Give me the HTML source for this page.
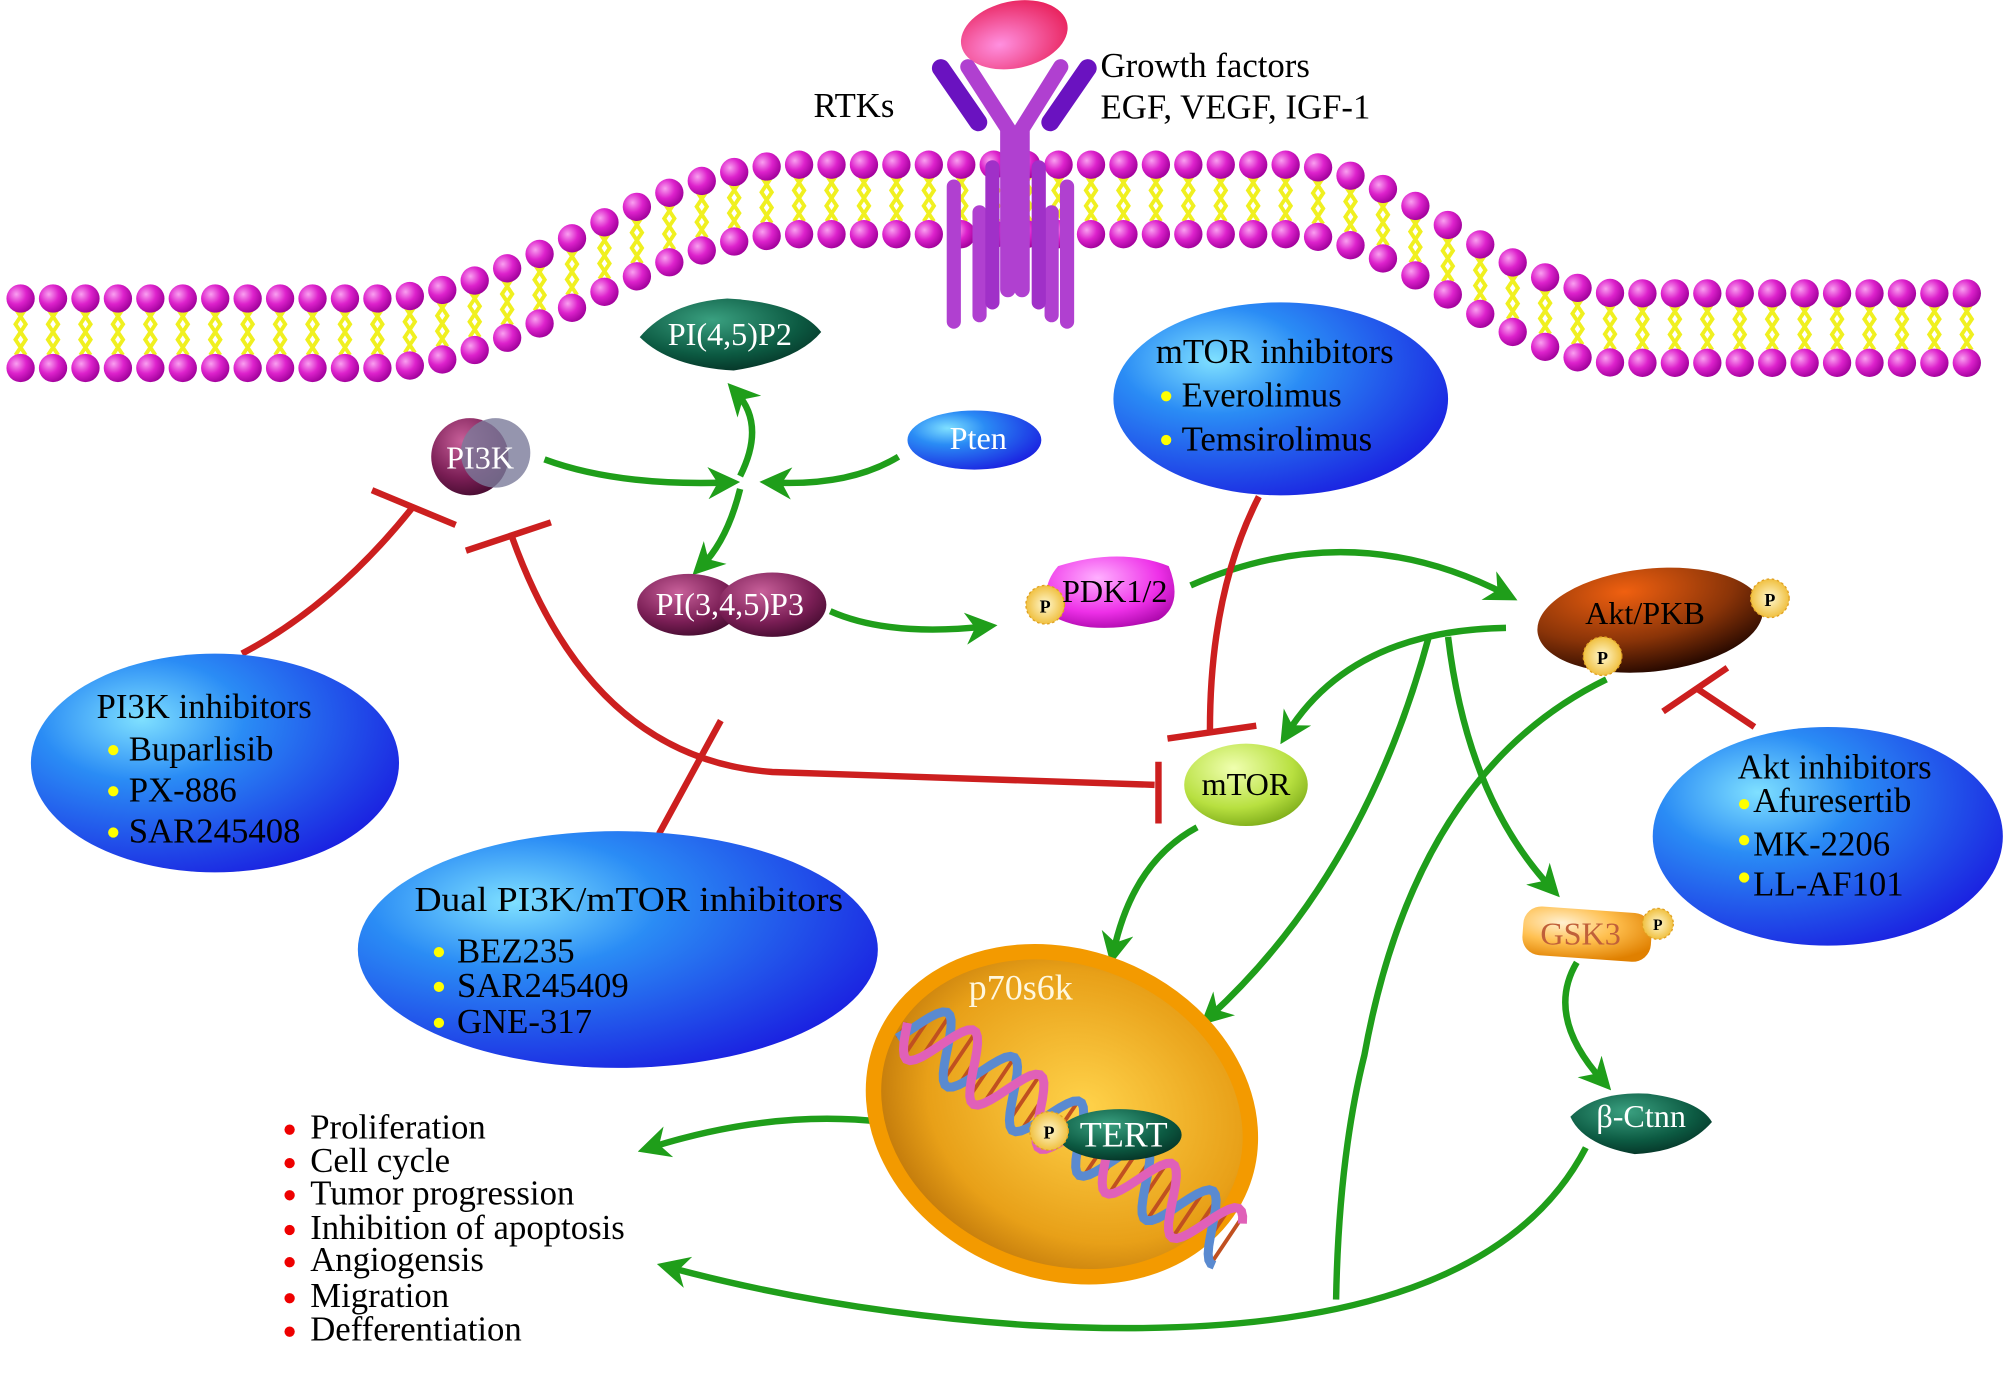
<!DOCTYPE html>
<html><head><meta charset="utf-8"><style>
html,body{margin:0;padding:0;background:#fff;}
svg{display:block;font-family:"Liberation Serif",serif;}
</style></head><body>
<svg id="s" width="2008" height="1378" viewBox="0 0 1560 1071" preserveAspectRatio="none" xmlns="http://www.w3.org/2000/svg">
<defs>
<radialGradient id="head" cx="35%" cy="35%" r="70%"><stop offset="0" stop-color="#f9a0f0"/><stop offset=".5" stop-color="#dd22cc"/><stop offset="1" stop-color="#a0009a"/></radialGradient>
<radialGradient id="blue" cx="30%" cy="30%" r="80%"><stop offset="0" stop-color="#7fe0ff"/><stop offset=".35" stop-color="#2a8cf5"/><stop offset="1" stop-color="#1a1ee0"/></radialGradient>
<radialGradient id="dgreen" cx="40%" cy="30%" r="80%"><stop offset="0" stop-color="#3aa080"/><stop offset=".6" stop-color="#0c5a42"/><stop offset="1" stop-color="#042a20"/></radialGradient>
<radialGradient id="purp" cx="40%" cy="30%" r="80%"><stop offset="0" stop-color="#c8609a"/><stop offset=".6" stop-color="#7a1e55"/><stop offset="1" stop-color="#3a0828"/></radialGradient>
<radialGradient id="brown" cx="40%" cy="20%" r="80%"><stop offset="0" stop-color="#f06010"/><stop offset=".6" stop-color="#8a3408"/><stop offset="1" stop-color="#2a0a00"/></radialGradient>
<radialGradient id="mag" cx="40%" cy="30%" r="80%"><stop offset="0" stop-color="#ffb0ff"/><stop offset=".6" stop-color="#ee30e8"/><stop offset="1" stop-color="#a000a0"/></radialGradient>
<radialGradient id="lime" cx="40%" cy="30%" r="80%"><stop offset="0" stop-color="#f0ffb0"/><stop offset=".6" stop-color="#b8e040"/><stop offset="1" stop-color="#70a010"/></radialGradient>
<radialGradient id="orange" cx="55%" cy="45%" r="60%"><stop offset="0" stop-color="#ffd24a"/><stop offset=".7" stop-color="#e8a018"/><stop offset="1" stop-color="#b87008"/></radialGradient>
<radialGradient id="gsk" cx="30%" cy="30%" r="80%"><stop offset="0" stop-color="#fff0d0"/><stop offset=".5" stop-color="#ffc050"/><stop offset="1" stop-color="#e08000"/></radialGradient>
<radialGradient id="pink" cx="35%" cy="60%" r="70%"><stop offset="0" stop-color="#ff90e0"/><stop offset="1" stop-color="#e8205a"/></radialGradient>
<radialGradient id="pb" cx="50%" cy="50%" r="50%"><stop offset="0" stop-color="#fff8d0"/><stop offset="1" stop-color="#f0c040"/></radialGradient>
<marker id="ga" viewBox="0 0 10 10" refX="6" refY="5" markerWidth="5" markerHeight="5" orient="auto-start-reverse" markerUnits="strokeWidth"><path d="M0,0 L10,5 L0,10 L3,5z" fill="#1f9e1a"/></marker>
</defs>
<g id="mem"></g>

<!-- receptor -->
<g stroke-linecap="round" fill="none">
<ellipse cx="788" cy="27" rx="42" ry="26" fill="url(#pink)" transform="rotate(-12 788 27)"/>
<path d="M731,53 L760,95" stroke="#6a12c0" stroke-width="14"/>
<path d="M845,53 L816,95" stroke="#6a12c0" stroke-width="14"/>
<path d="M752,52 L783,100 L783,225" stroke="#b040d0" stroke-width="12"/>
<path d="M824,52 L794,100 L794,225" stroke="#b040d0" stroke-width="12"/>
<path d="M761,165 V245 M817,165 V245 M741,145 V250 M829,145 V250" stroke="#b040d0" stroke-width="11"/>
<path d="M771,130 V235 M807,130 V235" stroke="#a030c8" stroke-width="11"/>
</g>
<g font-size="27">
<text x="632" y="91">RTKs</text>
<text x="855" y="60">Growth factors</text>
<text x="855" y="92">EGF, VEGF, IGF-1</text>
</g>

<!-- connectors green -->
<g stroke="#1f9e1a" stroke-width="5" fill="none" marker-end="url(#ga)">
<path d="M423,357 Q480,378 565,375"/>
<path d="M698,355 Q660,378 600,375"/>
<path d="M575,370 Q595,330 572,305" />
<path d="M575,380 Q565,420 545,440"/>
<path d="M645,475 Q690,495 765,487"/>
<path d="M925,455 Q1050,400 1170,462"/>
<path d="M1170,488 Q1050,490 1000,570"/>
<path d="M930,643 Q880,670 865,740"/>
<path d="M1110,495 Q1060,680 940,790"/>
<path d="M1125,495 Q1140,620 1205,690"/>
<path d="M1225,748 Q1200,790 1245,840"/>
<path d="M686,872 Q600,862 505,892"/>
<path d="M1232,892 Q1150,1050 800,1030 Q650,1020 520,985"/>
<path d="M1248,528 Q1100,600 1060,820 Q1040,900 1038,1010" marker-end="none"/>
</g>

<!-- red inhibition -->
<g stroke="#cc1f1f" stroke-width="5" fill="none">
<path d="M188,508 Q260,470 320,395"/><path d="M289,381 L354,408"/>
<path d="M897,610 L600,600 Q460,590 398,418"/><path d="M362,428 L428,406"/><path d="M900,592 V640"/>
<path d="M512,648 L560,560"/>
<path d="M978,386 Q940,460 940,567"/><path d="M907,574 L976,564"/>
<path d="M1363,565 L1318,535"/><path d="M1292,553 L1342,519"/>
</g>

<!-- nodes -->
<path d="M497,262 Q520,235 565,232 Q620,235 638,258 Q620,280 570,288 Q520,285 497,262z" fill="url(#dgreen)"/>
<text x="567" y="268" font-size="25" fill="#fff" text-anchor="middle">PI(4,5)P2</text>
<ellipse cx="757" cy="342" rx="52" ry="23" fill="url(#blue)"/>
<text x="760" y="349" font-size="25" fill="#fff" text-anchor="middle">Pten</text>
<circle cx="365" cy="355" r="30" fill="url(#purp)"/><circle cx="385" cy="352" r="27" fill="#7a7a9a" opacity=".8"/>
<text x="373" y="364" font-size="25" fill="#fff" text-anchor="middle">PI3K</text>
<ellipse cx="535" cy="470" rx="40" ry="24" fill="url(#purp)"/><ellipse cx="600" cy="470" rx="42" ry="25" fill="url(#purp)"/>
<text x="567" y="478" font-size="25" fill="#fff" text-anchor="middle">PI(3,4,5)P3</text>
<path d="M822,440 Q870,425 908,440 Q920,470 900,482 Q850,495 820,480 Q805,460 822,440z" fill="url(#mag)"/>
<circle cx="812" cy="470" r="15" fill="url(#pb)" stroke="#e0a020" stroke-dasharray="2 2"/><text x="812" y="476" font-size="14" text-anchor="middle" font-weight="bold">P</text>
<text x="866" y="468" font-size="25" text-anchor="middle">PDK1/2</text>
<ellipse cx="1282" cy="482" rx="88" ry="40" fill="url(#brown)" transform="rotate(-6 1282 482)"/>
<text x="1278" y="485" font-size="25" text-anchor="middle">Akt/PKB</text>
<circle cx="1375" cy="465" r="15" fill="url(#pb)" stroke="#e0a020" stroke-dasharray="2 2"/><text x="1375" y="471" font-size="14" text-anchor="middle" font-weight="bold">P</text>
<circle cx="1245" cy="510" r="15" fill="url(#pb)" stroke="#e0a020" stroke-dasharray="2 2"/><text x="1245" y="516" font-size="14" text-anchor="middle" font-weight="bold">P</text>

<g font-size="27">
<ellipse cx="995" cy="310" rx="130" ry="75" fill="url(#blue)"/>
<text x="898" y="282">mTOR inhibitors</text>
<circle cx="906" cy="308" r="4" fill="#ff0"/><text x="918" y="316">Everolimus</text>
<circle cx="906" cy="342" r="4" fill="#ff0"/><text x="918" y="350">Temsirolimus</text>

<ellipse cx="167" cy="593" rx="143" ry="85" fill="url(#blue)"/>
<text x="75" y="558">PI3K inhibitors</text>
<circle cx="88" cy="583" r="4" fill="#ff0"/><text x="100" y="591">Buparlisib</text>
<circle cx="88" cy="615" r="4" fill="#ff0"/><text x="100" y="623">PX-886</text>
<circle cx="88" cy="647" r="4" fill="#ff0"/><text x="100" y="655">SAR245408</text>

<ellipse cx="480" cy="738" rx="202" ry="92" fill="url(#blue)"/>
<text x="322" y="708" textLength="333" lengthAdjust="spacingAndGlyphs">Dual PI3K/mTOR inhibitors</text>
<circle cx="341" cy="740" r="4" fill="#ff0"/><text x="355" y="748">BEZ235</text>
<circle cx="341" cy="767" r="4" fill="#ff0"/><text x="355" y="775">SAR245409</text>
<circle cx="341" cy="795" r="4" fill="#ff0"/><text x="355" y="803">GNE-317</text>

<ellipse cx="1420" cy="650" rx="136" ry="85" fill="url(#blue)"/>
<text x="1350" y="605">Akt inhibitors</text>
<circle cx="1355" cy="625" r="4" fill="#ff0"/><text x="1362" y="631">Afuresertib</text>
<circle cx="1355" cy="653" r="4" fill="#ff0"/><text x="1362" y="665">MK-2206</text>
<circle cx="1355" cy="682" r="4" fill="#ff0"/><text x="1362" y="696">LL-AF101</text>
</g>

<ellipse cx="968" cy="610" rx="48" ry="32" fill="url(#lime)"/>
<text x="968" y="618" font-size="25" text-anchor="middle">mTOR</text>

<rect x="1183" y="707" width="100" height="38" rx="14" fill="url(#gsk)" transform="rotate(4 1233 726)"/>
<text x="1228" y="734" font-size="25" fill="#c0603a" text-anchor="middle">GSK3</text>
<circle cx="1288" cy="718" r="12" fill="url(#pb)" stroke="#e0a020" stroke-dasharray="2 2"/><text x="1288" y="723" font-size="12" text-anchor="middle" font-weight="bold">P</text>
<path d="M1220,868 Q1240,848 1280,850 Q1320,855 1330,872 Q1310,895 1270,897 Q1230,890 1220,868z" fill="url(#dgreen)"/>
<text x="1275" y="876" font-size="25" fill="#fff" text-anchor="middle">β-Ctnn</text>

<!-- p70s6k -->
<ellipse cx="825" cy="866" rx="150" ry="122" fill="url(#orange)" stroke="#f39a00" stroke-width="12" transform="rotate(22 825 866)"/>
<g id="dna"></g>
<text x="793" y="777" font-size="28" fill="#fff8e0" text-anchor="middle">p70s6k</text>
<ellipse cx="870" cy="882" rx="48" ry="20" fill="url(#dgreen)"/>
<circle cx="815" cy="879" r="15" fill="url(#pb)" stroke="#e0a020" stroke-dasharray="2 2"/><text x="815" y="885" font-size="14" text-anchor="middle" font-weight="bold">P</text>
<text x="873" y="891" font-size="28" fill="#fff" text-anchor="middle">TERT</text>

<!-- outcome list -->
<g font-size="27">
<circle cx="225" cy="878" r="4" fill="#e00"/><text x="241" y="885">Proliferation</text>
<circle cx="225" cy="904" r="4" fill="#e00"/><text x="241" y="911">Cell cycle</text>
<circle cx="225" cy="929" r="4" fill="#e00"/><text x="241" y="936">Tumor progression</text>
<circle cx="225" cy="956" r="4" fill="#e00"/><text x="241" y="963">Inhibition of apoptosis</text>
<circle cx="225" cy="981" r="4" fill="#e00"/><text x="241" y="988">Angiogensis</text>
<circle cx="225" cy="1009" r="4" fill="#e00"/><text x="241" y="1016">Migration</text>
<circle cx="225" cy="1035" r="4" fill="#e00"/><text x="241" y="1042">Defferentiation</text>
</g>
</svg>
<script>
(function(){
var g=document.getElementById("mem");
function top(x){
 if(x<290)return 232;
 if(x<620)return 232-104*(1-Math.cos(Math.PI*(x-290)/330))/2;
 if(x<1000)return 128;
 if(x<1260)return 128+100*(1-Math.cos(Math.PI*(x-1000)/260))/2;
 return 228;}
var h="";
for(var x=16;x<1545;x+=25.2){
 var t=top(x);
 h+='<path d="M'+(x-4)+','+(t+8)+' l4,6 l-4,6 l4,6 l-4,6 l4,6 l-4,6 M'+(x+4)+','+(t+8)+' l-4,6 l4,6 l-4,6 l4,6 l-4,6 l4,6" stroke="#f0f020" stroke-width="3" fill="none"/>';
}
for(var x=16;x<1545;x+=25.2){
 var t=top(x),b=t+54;
 h+='<circle cx="'+x+'" cy="'+t+'" r="11" fill="url(#head)"/><circle cx="'+x+'" cy="'+b+'" r="11" fill="url(#head)"/>';
}
g.innerHTML=h;
// DNA helix
var ax=705,ay=795,bx=958,by=965,dx=bx-ax,dy=by-ay,L=Math.sqrt(dx*dx+dy*dy),ux=dx/L,uy=dy/L,px=-uy,py=ux;
var A=24,per=62,s1="",s2="",r="";
for(var s=0;s<=L;s+=3){
 var ph=2*Math.PI*s/per,o1=A*Math.sin(ph),o2=A*Math.sin(ph+Math.PI*0.8);
 var cx=ax+ux*s,cy=ay+uy*s;
 s1+=(s?"L":"M")+(cx+px*o1).toFixed(1)+","+(cy+py*o1).toFixed(1);
 s2+=(s?"L":"M")+(cx+px*o2).toFixed(1)+","+(cy+py*o2).toFixed(1);
 if(s%12===0) r+='M'+(cx+px*o1).toFixed(1)+','+(cy+py*o1).toFixed(1)+'L'+(cx+px*o2).toFixed(1)+','+(cy+py*o2).toFixed(1);
}
document.getElementById("dna").innerHTML='<path d="'+r+'" stroke="#c05020" stroke-width="3" fill="none"/><path d="'+s2+'" stroke="#5a8ad0" stroke-width="7" fill="none"/><path d="'+s1+'" stroke="#e060b8" stroke-width="7" fill="none"/>';
})();
</script>
</body></html>
